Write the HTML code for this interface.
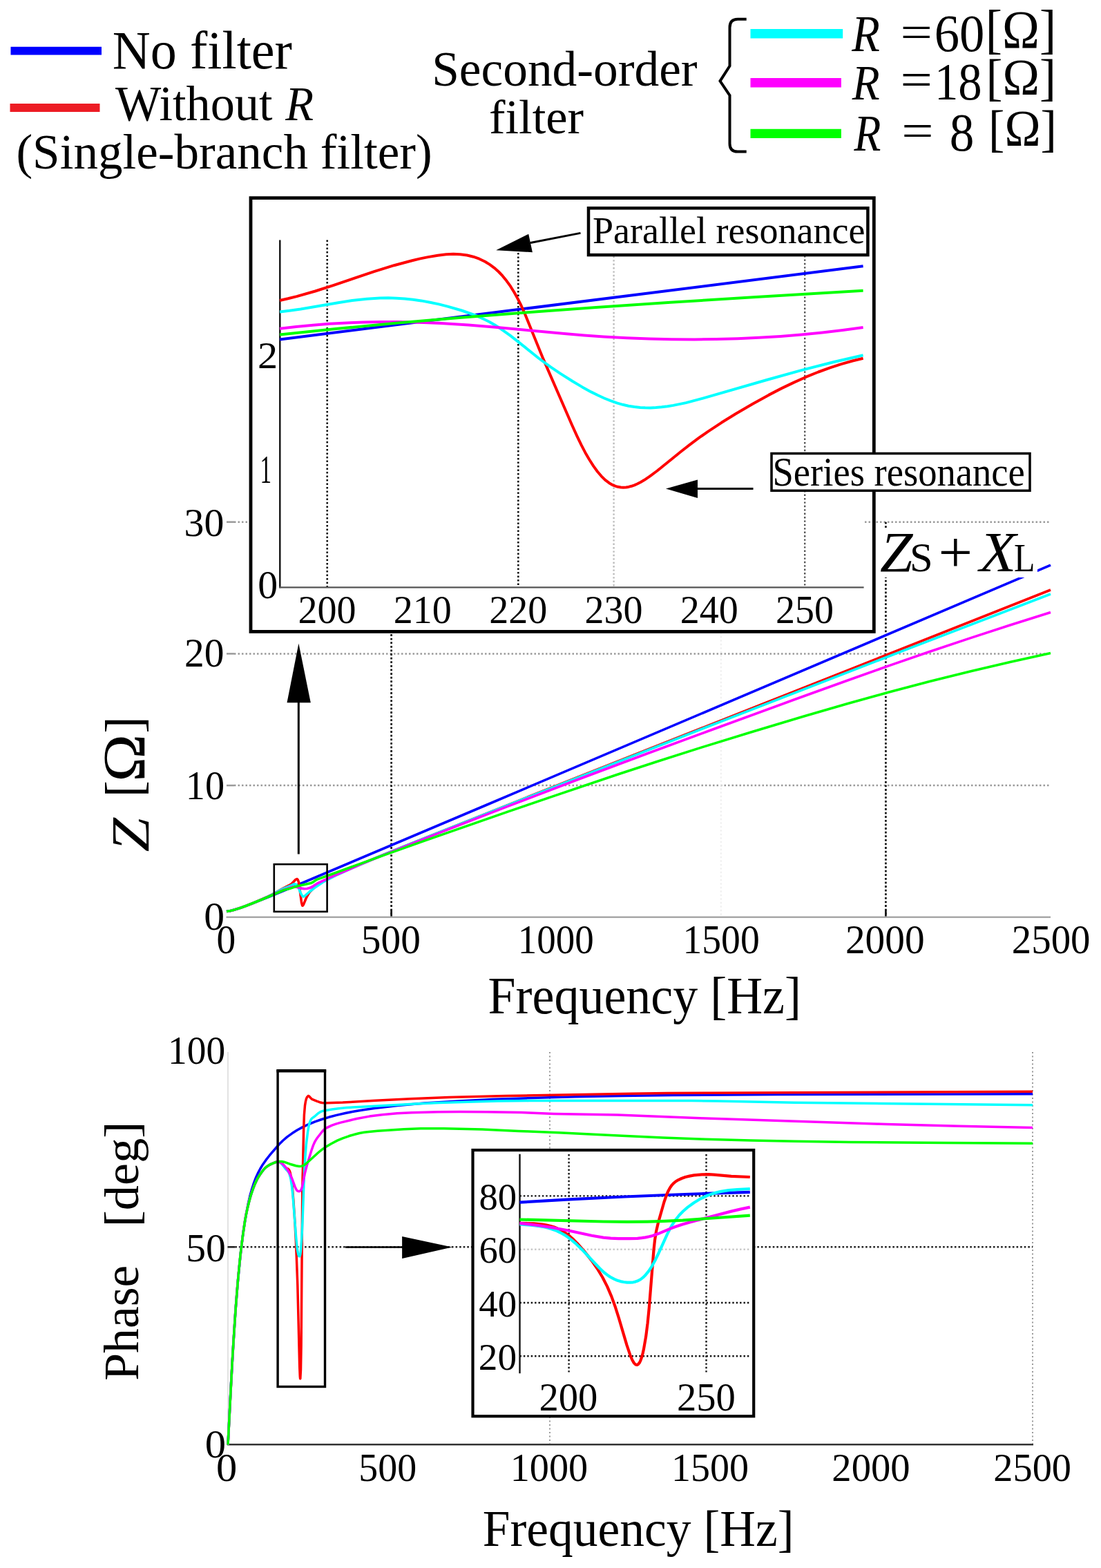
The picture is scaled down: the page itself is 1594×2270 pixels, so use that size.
<!DOCTYPE html>
<html><head><meta charset="utf-8"><title>Impedance and phase</title>
<style>html,body{margin:0;padding:0;background:#fff;}svg{display:block;filter:blur(0.6px);}
text{font-family:'Liberation Serif', 'Times New Roman', serif;}</style></head>
<body><svg width="1594" height="2270" viewBox="0 0 1594 2270">
<rect width="1594" height="2270" fill="#fff"/>
<line x1="15.50" y1="73.60" x2="147.00" y2="73.60" stroke="#0000ff" stroke-width="11.8" stroke-linecap="butt"/>
<line x1="14.50" y1="156.00" x2="144.50" y2="156.00" stroke="#ed1c24" stroke-width="11.8" stroke-linecap="butt"/>
<text transform="translate(162.81,99.42) scale(0.9779,1)" font-size="77.90" fill="#000">No filter</text>
<text transform="translate(167.10,173.81) scale(0.9685,1)" font-size="72.54" fill="#000">Without</text>
<text transform="translate(413.33,174.10) scale(0.9579,1)" font-size="69.77" font-style="italic" fill="#000">R</text>
<text transform="translate(23.40,243.76) scale(1.0036,1)" font-size="70.87" fill="#000">(Single-branch filter)</text>
<text transform="translate(625.16,123.79) scale(1.0065,1)" font-size="70.92" fill="#000">Second-order</text>
<text transform="translate(707.98,193.01) scale(1.0211,1)" font-size="69.09" fill="#000">filter</text>
<path d="M1080.7,27.8 L1068,27.8 Q1056.5,27.8 1056.5,40 L1056.5,95.5 L1042.5,117.3 L1056.5,138.1 L1056.5,208 Q1056.5,219.6 1068,219.6 L1080.7,219.6" fill="none" stroke="#000" stroke-width="4" stroke-linejoin="miter"/>
<line x1="1086.50" y1="48.80" x2="1220.20" y2="48.80" stroke="#00ffff" stroke-width="13.4" stroke-linecap="butt"/>
<line x1="1086.50" y1="119.70" x2="1217.90" y2="119.70" stroke="#ff00ff" stroke-width="13.4" stroke-linecap="butt"/>
<line x1="1086.50" y1="193.40" x2="1217.90" y2="193.40" stroke="#00ff00" stroke-width="13.4" stroke-linecap="butt"/>
<text transform="translate(1233.13,73.80) scale(0.8926,1)" font-size="74.50" font-style="italic" fill="#000">R</text>
<text transform="translate(1303.48,68.51) scale(1.2404,1)" font-size="66.40" fill="#000">=</text>
<text transform="translate(1352.63,73.74) scale(0.9582,1)" font-size="75.85" fill="#000">60</text>
<text transform="translate(1426.85,69.26) scale(0.9302,1)" font-size="78.07" fill="#000">[Ω]</text>
<text transform="translate(1233.83,143.70) scale(0.9047,1)" font-size="72.21" font-style="italic" fill="#000">R</text>
<text transform="translate(1303.48,138.39) scale(1.2330,1)" font-size="66.80" fill="#000">=</text>
<text transform="translate(1353.01,143.64) scale(0.9044,1)" font-size="76.00" fill="#000">18</text>
<text transform="translate(1427.60,137.05) scale(0.9773,1)" font-size="73.73" fill="#000">[Ω]</text>
<text transform="translate(1236.52,217.80) scale(0.8528,1)" font-size="74.66" font-style="italic" fill="#000">R</text>
<text transform="translate(1305.19,211.76) scale(1.2152,1)" font-size="67.60" fill="#000">=</text>
<text transform="translate(1374.65,217.73) scale(0.9206,1)" font-size="77.33" fill="#000">8</text>
<text transform="translate(1431.03,211.10) scale(0.9479,1)" font-size="74.10" fill="#000">[Ω]</text>
<line x1="328.00" y1="1137.10" x2="339.00" y2="1137.10" stroke="#9a9a9a" stroke-width="2.5" stroke-linecap="butt"/>
<line x1="339.00" y1="1137.10" x2="1521.00" y2="1137.10" stroke="#9a9a9a" stroke-width="2.5" stroke-dasharray="2.5 3" stroke-linecap="butt"/>
<line x1="328.00" y1="946.40" x2="339.00" y2="946.40" stroke="#9a9a9a" stroke-width="2.5" stroke-linecap="butt"/>
<line x1="339.00" y1="946.40" x2="1521.00" y2="946.40" stroke="#9a9a9a" stroke-width="2.5" stroke-dasharray="2.5 3" stroke-linecap="butt"/>
<line x1="328.00" y1="755.70" x2="339.00" y2="755.70" stroke="#9a9a9a" stroke-width="2.5" stroke-linecap="butt"/>
<line x1="339.00" y1="755.70" x2="1521.00" y2="755.70" stroke="#9a9a9a" stroke-width="2.5" stroke-dasharray="2.5 3" stroke-linecap="butt"/>
<line x1="566.60" y1="755.70" x2="566.60" y2="1327.00" stroke="#1a1a1a" stroke-width="2.8" stroke-dasharray="2.8 2.8" stroke-linecap="butt"/>
<line x1="1043.80" y1="755.70" x2="1043.80" y2="1327.00" stroke="#eeeeee" stroke-width="2" stroke-dasharray="2.5 3" stroke-linecap="butt"/>
<line x1="1282.40" y1="755.70" x2="1282.40" y2="1327.00" stroke="#1a1a1a" stroke-width="2.8" stroke-dasharray="2.8 2.8" stroke-linecap="butt"/>
<line x1="566.60" y1="1316.50" x2="566.60" y2="1327.00" stroke="#1a1a1a" stroke-width="2.8" stroke-linecap="butt"/>
<line x1="1282.40" y1="1316.50" x2="1282.40" y2="1327.00" stroke="#1a1a1a" stroke-width="2.8" stroke-linecap="butt"/>
<line x1="327.50" y1="1327.80" x2="1521.00" y2="1327.80" stroke="#a8a8a8" stroke-width="2.5" stroke-linecap="butt"/>
<path d="M328.0,1319.5L334.0,1318.4L340.9,1316.6L348.9,1314.1L359.8,1310.1L390.7,1297.8L444.2,1275.5L705.1,1165.0L1521.0,818.2" fill="none" stroke="#0000ff" stroke-width="3.6" stroke-linejoin="round" stroke-linecap="butt"/>
<path d="M328.0,1319.5L333.0,1318.7L337.9,1317.5L349.9,1313.7L366.8,1307.2L385.7,1299.0L395.7,1294.2L408.4,1286.8L421.1,1280.3L422.7,1278.9L427.6,1273.7L429.8,1272.5L430.5,1272.8L431.2,1273.6L432.4,1276.9L433.4,1282.6L436.5,1306.5L437.5,1310.3L437.8,1311.1L438.2,1311.2L439.4,1309.7L443.1,1300.5L445.3,1296.3L447.3,1293.0L448.9,1291.0L456.6,1283.3L458.9,1281.3L467.4,1276.0L480.2,1269.5L494.2,1263.1L517.0,1253.2L553.9,1238.0L601.6,1218.7L747.9,1160.3L1521.0,854.0" fill="none" stroke="#ff0000" stroke-width="3.6" stroke-linejoin="round" stroke-linecap="butt"/>
<path d="M328.0,1319.5L335.0,1318.2L342.9,1316.0L352.9,1312.6L365.8,1307.6L377.7,1302.6L388.7,1297.6L396.7,1293.7L408.8,1287.1L420.3,1282.5L424.7,1280.3L426.0,1279.9L427.3,1280.0L428.3,1280.4L430.6,1282.4L432.1,1284.9L434.8,1291.7L437.1,1296.2L437.9,1297.3L438.9,1298.0L440.6,1297.7L448.7,1290.5L457.5,1283.9L467.7,1277.0L475.3,1272.8L489.2,1266.0L506.1,1258.3L541.9,1243.0L564.8,1233.4L640.4,1203.1L747.9,1160.6L1017.5,1054.8L1308.1,941.9L1521.0,860.0" fill="none" stroke="#00ffff" stroke-width="3.6" stroke-linejoin="round" stroke-linecap="butt"/>
<path d="M328.0,1319.5L333.0,1318.7L338.9,1317.2L345.9,1315.0L354.9,1311.9L366.8,1307.3L380.7,1301.5L409.7,1288.4L422.7,1284.3L425.6,1283.8L428.5,1283.9L436.7,1286.1L440.6,1286.7L444.5,1286.5L448.1,1285.6L451.6,1284.0L457.7,1280.0L460.6,1278.4L477.2,1270.6L522.0,1251.4L564.8,1233.8L650.4,1200.1L735.0,1167.4L835.4,1129.0L936.9,1091.0L1028.5,1057.2L1152.9,1011.8L1226.5,985.2L1285.2,964.4L1344.9,943.8L1403.6,924.1L1462.3,905.0L1521.0,886.5" fill="none" stroke="#ff00ff" stroke-width="3.6" stroke-linejoin="round" stroke-linecap="butt"/>
<path d="M328.0,1319.5L334.0,1318.4L339.9,1316.9L346.9,1314.7L355.9,1311.5L379.7,1302.0L411.0,1288.5L419.8,1286.3L426.7,1284.1L433.1,1282.3L450.2,1278.6L452.5,1277.4L457.6,1273.9L459.9,1272.9L554.9,1238.4L612.6,1217.9L735.9,1174.9L802.6,1152.1L893.2,1121.5L952.9,1102.0L1014.5,1082.4L1087.2,1060.0L1163.8,1037.0L1228.5,1018.3L1286.2,1002.3L1346.9,986.3L1405.6,971.7L1463.3,958.2L1521.0,945.6" fill="none" stroke="#00ff00" stroke-width="3.6" stroke-linejoin="round" stroke-linecap="butt"/>
<rect x="396.80" y="1251.20" width="76.80" height="68.60" fill="none" stroke="#000" stroke-width="2.6"/>
<line x1="432.30" y1="1236.50" x2="432.30" y2="1010.00" stroke="#000" stroke-width="3" stroke-linecap="butt"/>
<polygon points="432.40,931.40 415.50,1017.30 449.80,1017.30" fill="#000"/>
<rect x="1268.00" y="764.00" width="234.00" height="72.00" fill="#fff"/>
<text transform="translate(1274.12,827.00) scale(1.0420,1)" font-size="81.83" font-style="italic" fill="#000">Z</text>
<text transform="translate(1317.07,827.01) scale(1.0282,1)" font-size="58.81" fill="#000">S</text>
<text transform="translate(1358.60,828.28) scale(1.0466,1)" font-size="84.04" fill="#000">+</text>
<text transform="translate(1418.05,827.00) scale(1.0657,1)" font-size="81.83" font-style="italic" fill="#000">X</text>
<text transform="translate(1467.91,827.00) scale(0.8677,1)" font-size="57.40" fill="#000">L</text>
<text transform="translate(266.61,775.82) scale(0.9953,1)" font-size="58.07" fill="#000">30</text>
<text transform="translate(266.91,965.01) scale(0.9799,1)" font-size="58.67" fill="#000">20</text>
<text transform="translate(268.73,1156.60) scale(0.9410,1)" font-size="59.85" fill="#000">10</text>
<text transform="translate(295.31,1345.94) scale(1.0616,1)" font-size="56.30" fill="#000">0</text>
<text transform="translate(313.48,1380.31) scale(0.9338,1)" font-size="59.41" fill="#000">0</text>
<text transform="translate(522.86,1380.31) scale(0.9655,1)" font-size="59.41" fill="#000">500</text>
<text transform="translate(749.75,1380.31) scale(0.9263,1)" font-size="59.41" fill="#000">1000</text>
<text transform="translate(988.49,1380.31) scale(0.9362,1)" font-size="59.41" fill="#000">1500</text>
<text transform="translate(1223.92,1380.31) scale(0.9651,1)" font-size="59.41" fill="#000">2000</text>
<text transform="translate(1464.74,1380.31) scale(0.9581,1)" font-size="59.41" fill="#000">2500</text>
<text transform="translate(706.54,1467.05) scale(0.9462,1)" font-size="76.04" fill="#000">Frequency [Hz]</text>
<text transform="translate(215.00,1233.13) rotate(-90) scale(1.1240,1)" font-size="78.78" font-style="italic">Z</text>
<text transform="translate(204.89,1154.05) rotate(-90) scale(0.9432,1)" font-size="75.66">[</text>
<text transform="translate(204.89,1061.52) rotate(-90) scale(0.9516,1)" font-size="75.66">]</text>
<text transform="translate(209.00,1132.07) rotate(-90) scale(1.0688,1)" font-size="87.42">Ω</text>
<rect x="366.00" y="290.00" width="884.00" height="621.00" fill="#fff"/>
<line x1="473.70" y1="347.50" x2="473.70" y2="850.00" stroke="#111" stroke-width="2.6" stroke-dasharray="2.6 2.9" stroke-linecap="butt"/>
<line x1="750.30" y1="366.00" x2="750.30" y2="850.00" stroke="#111" stroke-width="2.6" stroke-dasharray="2.6 2.9" stroke-linecap="butt"/>
<line x1="888.60" y1="360.00" x2="888.60" y2="850.00" stroke="#bbbbbb" stroke-width="2.4" stroke-dasharray="2.4 3" stroke-linecap="butt"/>
<line x1="1165.20" y1="370.00" x2="1165.20" y2="850.00" stroke="#555" stroke-width="2.4" stroke-dasharray="2.4 3" stroke-linecap="butt"/>
<line x1="405.30" y1="347.50" x2="405.30" y2="851.30" stroke="#111" stroke-width="2.4" stroke-linecap="butt"/>
<line x1="404.30" y1="850.30" x2="1250.60" y2="850.30" stroke="#555" stroke-width="2.2" stroke-linecap="butt"/>
<path d="M405.0,491.5L1249.6,385.3" fill="none" stroke="#0000ff" stroke-width="4.0" stroke-linejoin="round" stroke-linecap="butt"/>
<path d="M405.0,435.0L416.9,432.3L429.6,429.1L456.4,421.5L482.5,413.1L541.6,393.2L570.5,384.2L596.6,377.2L608.5,374.4L619.8,372.1L633.9,369.7L645.9,368.3L656.4,367.8L666.3,368.2L676.2,369.5L685.3,371.7L693.8,374.7L702.2,378.8L709.3,383.1L715.6,387.8L722.0,393.5L727.6,399.4L733.2,406.3L738.9,414.2L744.5,423.2L749.4,432.1L754.4,442.0L760.0,454.5L785.4,517.1L828.3,615.8L835.4,631.3L841.7,644.4L847.3,655.2L853.0,665.0L859.3,674.9L865.0,682.7L870.6,689.3L876.2,694.9L881.9,699.2L887.5,702.4L893.1,704.5L898.8,705.5L902.3,705.7L906.5,705.4L910.0,704.9L914.3,703.8L918.5,702.3L922.7,700.5L927.6,698.0L932.6,695.1L941.0,689.4L951.6,681.5L986.8,653.0L999.5,643.1L1012.2,633.7L1025.6,624.3L1044.6,611.8L1065.7,598.7L1089.7,584.7L1112.9,571.9L1131.2,562.4L1149.5,553.6L1167.1,545.7L1184.8,538.5L1201.7,532.3L1217.9,527.1L1234.1,522.5L1249.6,518.8" fill="none" stroke="#ff0000" stroke-width="4.0" stroke-linejoin="round" stroke-linecap="butt"/>
<path d="M405.0,451.4L419.1,449.8L435.3,447.5L489.5,438.2L509.9,435.1L531.1,432.7L550.1,431.5L562.1,431.3L574.0,431.7L586.0,432.5L598.0,433.7L610.0,435.4L622.6,437.7L635.3,440.4L648.0,443.6L668.4,449.5L686.0,455.7L693.8,458.9L701.5,462.5L708.6,466.0L715.6,470.0L726.2,476.8L738.2,485.4L749.4,494.1L780.4,519.0L797.3,531.4L811.4,540.8L829.0,552.0L843.1,560.4L855.8,567.4L865.7,572.3L874.8,576.5L884.0,580.2L893.1,583.4L901.6,585.8L910.0,587.8L918.5,589.1L926.9,590.0L934.0,590.3L941.7,590.4L949.5,590.0L957.9,589.3L966.4,588.3L974.8,586.9L993.2,583.1L1018.5,576.4L1110.1,550.0L1160.8,535.9L1207.3,524.0L1249.6,514.2" fill="none" stroke="#00ffff" stroke-width="4.0" stroke-linejoin="round" stroke-linecap="butt"/>
<path d="M405.0,475.8L428.9,473.0L452.9,470.7L476.8,468.8L501.5,467.4L526.1,466.4L550.8,465.9L575.4,465.9L600.8,466.4L638.8,467.9L678.3,470.5L717.7,473.8L817.0,483.1L845.9,485.5L874.1,487.4L907.2,489.2L940.3,490.5L972.7,491.2L1005.1,491.4L1036.8,491.1L1067.8,490.2L1098.8,488.8L1129.8,486.9L1160.1,484.5L1190.4,481.5L1220.0,478.0L1249.6,474.0" fill="none" stroke="#ff00ff" stroke-width="4.0" stroke-linejoin="round" stroke-linecap="butt"/>
<path d="M405.0,484.4L488.8,475.8L576.1,467.6L667.7,459.7L763.5,452.2L862.8,445.0L970.6,437.8L1090.4,430.3L1249.6,420.8" fill="none" stroke="#00ff00" stroke-width="4.0" stroke-linejoin="round" stroke-linecap="butt"/>
<rect x="363.00" y="286.60" width="902.30" height="627.80" fill="none" stroke="#000" stroke-width="4.8"/>
<text transform="translate(372.88,532.80) scale(1.0591,1)" font-size="55.00" fill="#000">2</text>
<text transform="translate(376.42,699.20) scale(0.5772,1)" font-size="57.42" fill="#000">1</text>
<text transform="translate(373.19,866.43) scale(1.0144,1)" font-size="57.04" fill="#000">0</text>
<text transform="translate(431.56,902.24) scale(1.0000,1)" font-size="56.00" fill="#000">200</text>
<text transform="translate(569.86,902.24) scale(1.0000,1)" font-size="56.00" fill="#000">210</text>
<text transform="translate(708.16,902.24) scale(1.0000,1)" font-size="56.00" fill="#000">220</text>
<text transform="translate(846.46,902.24) scale(1.0000,1)" font-size="56.00" fill="#000">230</text>
<text transform="translate(984.76,902.24) scale(1.0000,1)" font-size="56.00" fill="#000">240</text>
<text transform="translate(1123.06,902.24) scale(1.0000,1)" font-size="56.00" fill="#000">250</text>
<rect x="852.00" y="301.30" width="404.40" height="67.80" fill="#fff" stroke="#000" stroke-width="4.5"/>
<text transform="translate(857.88,352.45) scale(0.9770,1)" font-size="55.32" fill="#000">Parallel resonance</text>
<line x1="768.00" y1="351.50" x2="840.50" y2="337.40" stroke="#000" stroke-width="3" stroke-linecap="butt"/>
<polygon points="718.20,362.30 765.20,338.80 770.90,365.20" fill="#000"/>
<rect x="1117.00" y="656.50" width="374.00" height="53.80" fill="#fff" stroke="#000" stroke-width="3.5"/>
<text transform="translate(1118.45,702.51) scale(0.9218,1)" font-size="59.25" fill="#000">Series resonance</text>
<line x1="1005.00" y1="707.50" x2="1090.50" y2="707.50" stroke="#000" stroke-width="3" stroke-linecap="butt"/>
<polygon points="964.00,707.50 1010.00,694.50 1010.00,721.00" fill="#000"/>
<line x1="330.00" y1="1523.00" x2="330.00" y2="2091.00" stroke="#e2e2e2" stroke-width="2" stroke-linecap="butt"/>
<line x1="796.00" y1="1523.00" x2="796.00" y2="2091.00" stroke="#9a9a9a" stroke-width="2" stroke-dasharray="2 3.5" stroke-linecap="butt"/>
<line x1="1495.00" y1="1523.00" x2="1495.00" y2="2091.00" stroke="#9a9a9a" stroke-width="2" stroke-dasharray="2 3.5" stroke-linecap="butt"/>
<line x1="340.30" y1="1805.30" x2="1495.00" y2="1805.30" stroke="#222" stroke-width="2.6" stroke-dasharray="2.6 3" stroke-linecap="butt"/>
<line x1="329.50" y1="1805.30" x2="340.30" y2="1805.30" stroke="#222" stroke-width="2.6" stroke-linecap="butt"/>
<line x1="329.00" y1="2091.20" x2="1496.00" y2="2091.20" stroke="#333" stroke-width="2.4" stroke-linecap="butt"/>
<path d="M330.0,2091.7L334.3,2007.1L337.7,1947.5L341.0,1896.5L344.4,1854.3L348.2,1815.7L352.3,1783.0L354.6,1768.3L357.0,1754.3L359.3,1742.5L361.8,1731.6L364.4,1722.4L367.2,1713.7L370.1,1705.8L373.3,1698.6L376.8,1692.0L380.6,1685.7L385.0,1679.4L390.2,1672.7L404.2,1656.5L409.8,1651.0L415.8,1645.9L422.8,1640.8L430.3,1636.0L438.4,1631.6L447.0,1627.5L456.1,1623.9L465.7,1620.5L476.2,1617.3L487.4,1614.4L500.0,1611.5L512.7,1609.0L526.3,1606.7L541.8,1604.5L575.8,1600.5L614.7,1597.1L660.4,1594.2L712.8,1591.6L770.2,1589.5L832.3,1587.8L899.4,1586.6L974.2,1585.6L1125.8,1584.6L1495.0,1583.8" fill="none" stroke="#0000ff" stroke-width="3.5" stroke-linejoin="round" stroke-linecap="butt"/>
<path d="M330.0,2091.7L336.0,1976.3L340.7,1900.4L343.3,1866.4L345.8,1839.2L348.5,1813.2L351.5,1789.1L354.5,1768.5L356.4,1757.6L360.3,1740.5L364.4,1726.3L368.8,1714.7L373.2,1705.6L379.1,1696.5L381.8,1693.1L384.3,1690.5L387.3,1688.2L390.2,1686.4L398.0,1682.8L401.6,1681.8L403.2,1681.8L404.6,1682.1L406.0,1682.8L407.5,1684.0L413.5,1690.6L414.8,1691.4L417.1,1692.2L418.2,1693.2L419.1,1694.8L420.0,1697.1L421.5,1704.0L423.1,1716.9L424.8,1737.0L427.1,1771.9L428.7,1803.1L430.8,1860.2L433.7,1978.8L434.3,1992.7L434.6,1995.5L434.7,1995.9L434.8,1995.6L435.5,1982.8L436.1,1947.9L437.8,1721.8L439.6,1636.7L440.4,1613.8L441.5,1600.4L442.4,1594.9L443.4,1590.8L444.7,1588.1L446.1,1586.6L446.7,1586.6L447.5,1587.0L450.1,1589.9L451.8,1591.3L459.2,1594.4L462.9,1595.7L466.2,1596.5L469.2,1596.8L473.0,1596.8L496.2,1596.1L543.8,1593.2L594.3,1590.7L650.6,1588.5L732.3,1586.5L914.9,1583.3L966.4,1582.6L1028.6,1582.2L1495.0,1580.2" fill="none" stroke="#ff0000" stroke-width="3.5" stroke-linejoin="round" stroke-linecap="butt"/>
<path d="M330.0,2091.7L334.4,2005.3L337.8,1945.6L341.1,1895.2L344.5,1853.3L348.6,1812.3L350.8,1794.0L353.3,1775.9L356.4,1757.6L359.0,1745.8L361.7,1735.2L366.0,1722.0L368.6,1715.4L371.2,1709.5L373.7,1704.8L376.5,1700.3L379.7,1695.8L382.7,1692.2L385.5,1689.5L389.3,1686.9L393.2,1684.9L400.2,1682.0L402.3,1681.7L404.2,1682.2L406.2,1683.4L408.1,1685.3L413.3,1692.0L416.7,1695.6L417.9,1697.2L419.5,1701.1L421.0,1707.2L422.5,1717.2L424.0,1731.1L428.5,1789.3L429.9,1804.5L430.9,1811.4L431.8,1816.0L432.9,1818.5L433.4,1818.8L433.9,1818.6L434.7,1816.4L435.4,1811.6L436.8,1793.4L438.0,1768.2L440.3,1704.0L441.7,1677.5L443.3,1657.3L445.5,1639.0L446.6,1632.5L447.7,1627.3L448.9,1623.5L450.3,1620.7L451.8,1618.9L455.5,1616.3L461.1,1611.4L464.5,1609.3L468.0,1608.2L480.6,1606.0L490.3,1604.7L502.0,1603.6L520.4,1602.4L603.0,1597.9L636.1,1596.4L685.6,1594.9L720.6,1594.1L766.3,1593.6L799.3,1593.4L1001.4,1593.5L1038.3,1594.0L1150.1,1596.3L1495.0,1599.7" fill="none" stroke="#00ffff" stroke-width="3.5" stroke-linejoin="round" stroke-linecap="butt"/>
<path d="M330.0,2091.7L334.5,2003.6L338.1,1939.9L341.6,1888.9L345.3,1844.1L349.6,1803.6L351.8,1786.3L354.6,1767.3L356.1,1758.9L358.9,1746.2L361.6,1735.9L364.2,1727.2L368.0,1716.7L372.0,1707.9L376.2,1700.7L381.2,1693.9L385.0,1689.9L389.3,1686.9L392.2,1685.4L398.0,1682.8L400.1,1682.0L401.9,1681.7L404.5,1682.2L407.6,1683.9L410.8,1686.6L414.0,1690.3L417.4,1695.3L420.5,1701.0L422.9,1706.7L427.1,1718.2L429.1,1722.3L430.3,1723.8L431.6,1724.6L433.4,1724.7L434.8,1724.1L436.2,1722.1L437.4,1718.5L441.3,1698.8L444.3,1687.3L451.4,1664.1L453.4,1658.4L455.2,1654.2L457.0,1650.9L459.0,1647.8L466.4,1638.2L468.7,1635.7L470.3,1634.3L473.2,1632.6L480.6,1629.1L486.4,1627.1L492.3,1625.4L516.6,1619.5L535.0,1616.1L553.5,1613.7L574.9,1611.8L596.2,1610.8L634.1,1609.7L666.2,1609.5L705.1,1609.8L754.6,1610.6L802.2,1612.4L893.6,1614.1L1021.8,1619.0L1283.2,1627.6L1388.1,1630.3L1495.0,1632.4" fill="none" stroke="#ff00ff" stroke-width="3.5" stroke-linejoin="round" stroke-linecap="butt"/>
<path d="M330.0,2091.7L336.3,1969.7L339.0,1926.6L341.9,1885.2L344.7,1851.2L347.8,1819.0L351.1,1791.8L354.8,1766.2L358.3,1749.0L362.6,1732.3L367.0,1719.3L369.5,1713.2L371.9,1708.0L374.3,1703.6L377.8,1698.4L380.9,1694.2L383.7,1691.1L385.9,1689.2L389.3,1686.9L393.2,1684.9L397.0,1683.3L402.8,1681.6L405.3,1681.4L407.9,1681.5L411.3,1682.2L419.8,1685.2L428.6,1687.8L433.0,1688.5L436.7,1688.2L439.7,1687.0L443.0,1684.7L461.5,1668.0L466.3,1664.1L470.6,1661.1L479.6,1655.7L488.4,1651.1L496.2,1647.8L504.9,1644.8L513.6,1642.2L520.4,1640.5L527.2,1639.2L534.0,1638.4L546.7,1637.3L584.6,1634.8L608.9,1633.7L642.9,1633.8L698.3,1635.1L750.7,1637.5L809.0,1639.7L884.8,1643.6L959.6,1647.1L1020.8,1649.2L1086.9,1651.0L1151.0,1652.3L1231.7,1653.4L1370.6,1654.6L1495.0,1655.3" fill="none" stroke="#00ff00" stroke-width="3.5" stroke-linejoin="round" stroke-linecap="butt"/>
<rect x="402.10" y="1550.30" width="68.40" height="457.20" fill="none" stroke="#000" stroke-width="3.4"/>
<line x1="400.40" y1="1550.30" x2="472.20" y2="1550.30" stroke="#000" stroke-width="4.4" stroke-linecap="butt"/>
<line x1="500.00" y1="1805.50" x2="590.00" y2="1805.50" stroke="#000" stroke-width="2.6" stroke-linecap="butt"/>
<polygon points="654.60,1805.50 582.10,1790.00 582.10,1822.00" fill="#000"/>
<text transform="translate(243.11,1539.52) scale(0.9552,1)" font-size="58.07" fill="#000">100</text>
<text transform="translate(269.14,1825.53) scale(1.0032,1)" font-size="57.48" fill="#000">50</text>
<text transform="translate(296.67,2110.24) scale(1.0756,1)" font-size="56.44" fill="#000">0</text>
<text transform="translate(312.98,2143.94) scale(1.0799,1)" font-size="56.00" fill="#000">0</text>
<text transform="translate(519.34,2143.94) scale(0.9987,1)" font-size="56.00" fill="#000">500</text>
<text transform="translate(738.74,2143.94) scale(1.0036,1)" font-size="56.00" fill="#000">1000</text>
<text transform="translate(971.96,2143.94) scale(0.9998,1)" font-size="56.00" fill="#000">1500</text>
<text transform="translate(1204.35,2143.94) scale(1.0117,1)" font-size="56.00" fill="#000">2000</text>
<text transform="translate(1438.36,2143.94) scale(1.0062,1)" font-size="56.00" fill="#000">2500</text>
<text transform="translate(698.75,2237.71) scale(0.9556,1)" font-size="74.84" fill="#000">Frequency [Hz]</text>
<text transform="translate(199.78,1998.75) rotate(-90) scale(0.9980,1)" font-size="71.77">Phase</text>
<text transform="translate(199.97,1776.23) rotate(-90) scale(1.0417,1)" font-size="69.45">[deg]</text>
<rect x="686.50" y="1667.00" width="402.70" height="381.30" fill="#fff"/>
<line x1="752.50" y1="1731.40" x2="1086.00" y2="1731.40" stroke="#111" stroke-width="2.4" stroke-dasharray="2.4 3" stroke-linecap="butt"/>
<line x1="752.50" y1="1808.70" x2="1086.00" y2="1808.70" stroke="#c8c8c8" stroke-width="2.4" stroke-dasharray="2.4 3" stroke-linecap="butt"/>
<line x1="752.50" y1="1886.00" x2="1086.00" y2="1886.00" stroke="#111" stroke-width="2.4" stroke-dasharray="2.4 3" stroke-linecap="butt"/>
<line x1="752.50" y1="1963.30" x2="1086.00" y2="1963.30" stroke="#111" stroke-width="2.4" stroke-dasharray="2.4 3" stroke-linecap="butt"/>
<line x1="823.60" y1="1671.00" x2="823.60" y2="1988.00" stroke="#111" stroke-width="2.4" stroke-dasharray="2.4 3" stroke-linecap="butt"/>
<line x1="1022.50" y1="1671.00" x2="1022.50" y2="1988.00" stroke="#111" stroke-width="2.4" stroke-dasharray="2.4 3" stroke-linecap="butt"/>
<line x1="752.50" y1="1670.80" x2="752.50" y2="1988.30" stroke="#111" stroke-width="2.4" stroke-linecap="butt"/>
<path d="M752.4,1740.6L824.7,1736.4L903.9,1732.5L990.7,1729.0L1085.8,1725.8" fill="none" stroke="#0000ff" stroke-width="4.2" stroke-linejoin="round" stroke-linecap="butt"/>
<path d="M752.4,1770.8L773.0,1771.4L785.2,1772.5L791.0,1773.5L796.3,1774.7L801.6,1776.3L806.6,1778.3L811.6,1780.7L816.3,1783.4L821.1,1786.7L825.5,1790.2L830.2,1794.4L835.2,1799.4L845.8,1811.4L856.7,1825.1L865.0,1837.0L872.5,1849.5L879.2,1862.6L885.3,1876.9L890.9,1892.3L895.9,1908.1L907.5,1947.3L912.5,1962.2L915.3,1968.8L917.8,1973.1L920.0,1975.4L921.2,1975.9L922.3,1976.0L923.9,1975.2L925.6,1973.2L927.3,1969.9L928.9,1965.3L930.6,1959.2L932.0,1953.0L935.1,1935.2L937.6,1915.5L939.8,1893.2L946.5,1809.5L948.1,1794.8L950.1,1782.4L952.9,1770.3L961.5,1740.0L965.6,1728.3L967.6,1724.0L969.8,1719.9L972.3,1716.2L975.1,1713.1L978.2,1710.5L981.8,1708.3L986.8,1706.0L992.3,1704.0L998.2,1702.6L1004.8,1701.4L1016.2,1700.3L1026.0,1700.1L1033.8,1700.6L1058.8,1702.8L1085.8,1704.0" fill="none" stroke="#ff0000" stroke-width="4.2" stroke-linejoin="round" stroke-linecap="butt"/>
<path d="M752.4,1772.4L773.5,1774.1L780.8,1775.1L787.4,1776.3L793.8,1777.8L799.9,1779.7L805.8,1781.9L811.3,1784.5L816.9,1787.6L822.2,1791.1L827.5,1795.1L832.7,1799.6L844.1,1810.6L868.3,1836.3L875.0,1842.5L881.1,1847.1L885.3,1849.7L889.5,1851.9L893.9,1853.7L898.4,1855.1L903.1,1856.0L907.8,1856.6L912.5,1856.6L916.7,1856.3L919.8,1855.6L922.8,1854.6L925.6,1853.2L928.4,1851.5L931.2,1849.2L933.7,1846.8L939.0,1840.4L944.0,1832.8L949.0,1823.7L953.4,1814.5L966.2,1786.4L969.8,1779.3L973.4,1772.9L978.2,1765.8L983.4,1759.2L989.0,1753.5L995.4,1747.9L1004.6,1741.2L1014.0,1735.5L1023.5,1731.0L1033.5,1727.4L1043.8,1724.9L1054.9,1723.1L1067.1,1722.0L1085.8,1721.0" fill="none" stroke="#00ffff" stroke-width="4.2" stroke-linejoin="round" stroke-linecap="butt"/>
<path d="M752.4,1770.8L778.8,1774.0L802.7,1777.7L821.9,1781.3L856.7,1788.8L873.6,1791.6L884.2,1792.7L895.6,1793.2L911.1,1793.2L922.8,1792.8L928.9,1792.2L934.5,1791.4L939.8,1790.3L944.8,1788.9L952.9,1786.1L969.5,1779.1L977.6,1776.0L988.2,1772.5L1000.4,1768.9L1057.7,1753.9L1072.7,1750.4L1085.8,1747.6" fill="none" stroke="#ff00ff" stroke-width="4.2" stroke-linejoin="round" stroke-linecap="butt"/>
<path d="M752.4,1765.5L873.9,1768.5L908.4,1768.8L937.3,1768.6L961.7,1767.9L988.4,1766.6L1085.8,1759.6" fill="none" stroke="#00ff00" stroke-width="4.2" stroke-linejoin="round" stroke-linecap="butt"/>
<rect x="684.50" y="1665.00" width="406.70" height="385.30" fill="none" stroke="#000" stroke-width="4.2"/>
<text transform="translate(693.42,1750.65) scale(1.0000,1)" font-size="54.67" fill="#000">80</text>
<text transform="translate(693.42,1828.35) scale(1.0000,1)" font-size="54.67" fill="#000">60</text>
<text transform="translate(693.28,1905.95) scale(1.0000,1)" font-size="54.81" fill="#000">40</text>
<text transform="translate(692.85,1982.95) scale(1.0000,1)" font-size="55.26" fill="#000">20</text>
<text transform="translate(780.41,2041.73) scale(1.0000,1)" font-size="56.59" fill="#000">200</text>
<text transform="translate(979.91,2041.73) scale(1.0000,1)" font-size="56.59" fill="#000">250</text>
</svg></body></html>
